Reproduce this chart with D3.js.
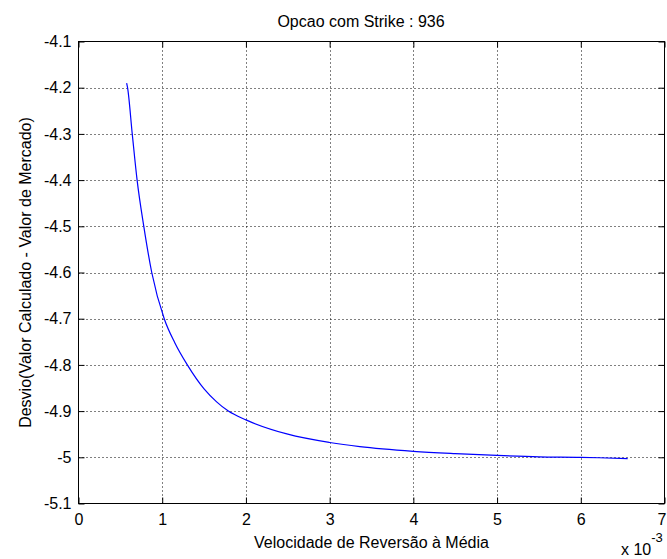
<!DOCTYPE html>
<html>
<head>
<meta charset="utf-8">
<script src="https://cdn.jsdelivr.net/npm/d3@7"></script>
<style>
  body { margin: 0; background: #fff; }
  text { font-family: "Liberation Sans", Arial, Helvetica, sans-serif; font-size: 16px; fill: #000; }
</style>
</head>
<body>
<svg id="chart" width="667" height="559"></svg>
<script>
// Mean-reversion speed (units of 1e-3) and the resulting pricing deviation
const velocidade = [0.575, 0.586, 0.642, 0.70, 0.78, 0.875, 1.024, 1.15, 1.30, 1.50, 1.65, 1.79,
                    2.0, 2.5, 3.0, 3.36, 4.0, 4.5, 5.0, 5.5, 6.0, 6.22, 6.56];
const desvio     = [-4.19, -4.20, -4.30, -4.40, -4.50, -4.60, -4.70, -4.752, -4.80, -4.852, -4.880, -4.900,
                    -4.919, -4.950, -4.968, -4.977, -4.987, -4.992, -4.996, -4.999, -5.000, -5.001, -5.003];

const xTicks = [0, 1, 2, 3, 4, 5, 6, 7];
const yTicks = [-4.1, -4.2, -4.3, -4.4, -4.5, -4.6, -4.7, -4.8, -4.9, -5.0, -5.1];

const titulo = "Opcao com Strike : 936";
const rotuloX = "Velocidade de Reversão à Média";
const rotuloY = "Desvio(Valor Calculado - Valor de Mercado)";

const L = 78.5, R = 664.5, T = 41.5, B = 503.5;
const W = R - L, H = B - T;

const svg = d3.select("#chart");
svg.append("rect").attr("width", 667).attr("height", 559).attr("fill", "#fff");

const x = d3.scaleLinear().domain([0, 7]).range([L, R]);
const y = d3.scaleLinear().domain([-5.1, -4.1]).range([B, T]);

const fmtY = d => String(+d.toFixed(1));

// dotted grid
const grid = svg.append("g").attr("stroke", "#000").attr("stroke-width", 1).attr("stroke-dasharray", "1,3");
grid.selectAll("line.gx").data(xTicks.slice(1, -1)).join("line")
  .attr("x1", d => Math.round(x(d)) + 0.5).attr("x2", d => Math.round(x(d)) + 0.5)
  .attr("y1", B).attr("y2", T);
grid.selectAll("line.gy").data(yTicks.slice(1, -1)).join("line")
  .attr("y1", d => Math.round(y(d)) + 0.5).attr("y2", d => Math.round(y(d)) + 0.5)
  .attr("x1", L).attr("x2", R);

// axes with inward ticks
function styleAxis(g) {
  g.select(".domain").remove();
  g.selectAll(".tick line").attr("stroke", "#000");
  g.selectAll(".tick text").attr("font-size", 16).attr("fill", "#000")
    .attr("font-family", "'Liberation Sans', Arial, sans-serif");
}
const xAxisG = svg.append("g").attr("transform", `translate(0,${B})`)
  .call(d3.axisBottom(x).tickValues(xTicks).tickFormat(d3.format("d")).tickSize(-6).tickPadding(10))
  .call(styleAxis);
// keep the last label inside the window edge
xAxisG.selectAll(".tick text").filter(d => d === xTicks[xTicks.length - 1]).attr("dx", -3);

svg.append("g").attr("transform", `translate(0,${T})`)
  .call(d3.axisTop(x).tickValues(xTicks).tickFormat("").tickSize(-6))
  .call(styleAxis);
svg.append("g").attr("transform", `translate(${L},0)`)
  .call(d3.axisLeft(y).tickValues(yTicks).tickFormat(fmtY).tickSize(-6).tickPadding(7))
  .call(styleAxis);
svg.append("g").attr("transform", `translate(${R},0)`)
  .call(d3.axisRight(y).tickValues(yTicks).tickFormat("").tickSize(-6))
  .call(styleAxis);

// box
svg.append("rect").attr("x", L).attr("y", T).attr("width", W).attr("height", H)
  .attr("fill", "none").attr("stroke", "#000").attr("stroke-width", 1);

// curve
const pts = velocidade.map((v, i) => [v, desvio[i]]);
svg.append("path").datum(pts)
  .attr("fill", "none").attr("stroke", "#0000ff").attr("stroke-width", 1.2)
  .attr("d", d3.line().x(d => x(d[0])).y(d => y(d[1])).curve(d3.curveMonotoneX));

// texts
svg.append("text").attr("x", 361).attr("y", 27).attr("text-anchor", "middle").text(titulo);
svg.append("text").attr("x", (L + R) / 2).attr("y", 548).attr("text-anchor", "middle").text(rotuloX);
svg.append("text").attr("transform", `translate(31,${(T + B) / 2}) rotate(-90)`)
  .attr("text-anchor", "middle").text(rotuloY);

const expo = svg.append("text").attr("x", 621).attr("y", 555);
expo.append("tspan").text("x 10");
expo.append("tspan").attr("dy", -13).attr("font-size", 13).text("-3");
</script>
</body>
</html>
